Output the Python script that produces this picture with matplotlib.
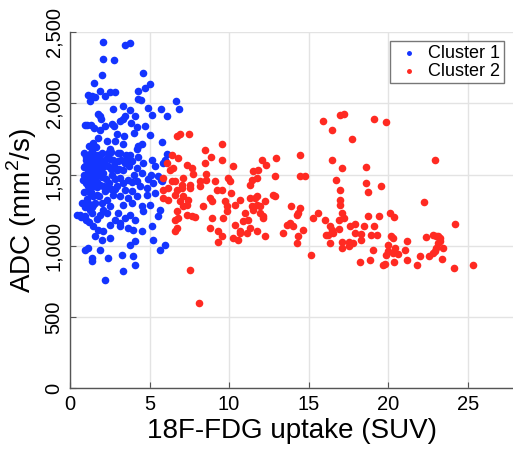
import matplotlib
matplotlib.use('Agg')
import matplotlib.pyplot as plt
from matplotlib.ticker import FuncFormatter
import numpy as np

plt.rcParams['font.family'] = ['Liberation Sans', 'DejaVu Sans']
plt.rcParams['mathtext.fontset'] = 'custom'
plt.rcParams['mathtext.rm'] = 'Liberation Sans'

#----------------------------------------#
#   data: (SUV, ADC)
#----------------------------------------#
cluster1 = [
    (2.09, 2431), (3.45, 2409), (3.8, 2421), (2.09, 2314), (2.78, 2302), (2.0, 2199), (4.6, 2215),
    (5.02, 2138), (4.71, 2110), (1.5, 2142), (1.88, 2086), (2.5, 2079), (2.82, 2079), (4.25, 2086),
    (1.15, 2056), (1.36, 2051), (1.26, 2016), (1.57, 2044), (2.2, 2051), (4.3, 2028), (4.46, 2023),
    (6.69, 2016), (6.84, 1957), (4.92, 1969), (2.72, 1962), (3.35, 1981), (3.77, 1953), (5.13, 1915),
    (5.75, 1962), (6.1, 1908), (1.78, 1922), (1.88, 1910), (1.95, 1892), (1.09, 1845), (1.3, 1845),
    (1.5, 1828), (3.45, 1910), (3.35, 1892), (4.08, 1910), (3.83, 1859), (4.18, 1835), (4.71, 1840),
    (2.78, 1840), (2.2, 1840), (2.93, 1781), (4.0, 1793), (3.39, 1770), (5.02, 1779), (1.88, 1810),
    (1.78, 1758), (0.94, 1845), (3.14, 1875), (2.62, 1852),
    (1.47, 1723), (2.3, 1735), (2.83, 1735), (3.35, 1711), (4.5, 1711), (5.76, 1728), (4.29, 1700),
    (4.19, 1676), (1.36, 1664), (1.99, 1652), (2.51, 1676), (3.14, 1652), (3.77, 1634), (6.07, 1641),
    (1.26, 1605), (1.67, 1610), (1.57, 1570), (1.99, 1594), (2.3, 1617), (2.72, 1605), (3.04, 1594),
    (3.45, 1582), (3.87, 1594), (1.47, 1535), (1.88, 1547), (2.41, 1559), (2.93, 1535), (3.35, 1535),
    (4.19, 1547), (4.5, 1512), (5.13, 1605), (5.34, 1559), (5.86, 1582), (5.97, 1605), (5.55, 1488),
    (1.67, 1488), (2.09, 1512), (2.62, 1500), (3.14, 1477), (3.66, 1465), (4.19, 1453), (1.26, 1453),
    (1.47, 1418), (1.88, 1430), (2.3, 1418), (2.93, 1418), (3.45, 1395), (3.87, 1383), (4.4, 1418),
    (4.82, 1406), (5.23, 1441), (5.76, 1453), (1.26, 1371), (1.67, 1359), (2.2, 1383), (2.72, 1359),
    (3.14, 1348), (3.66, 1336), (4.19, 1348), (4.82, 1359), (5.34, 1371),
    (1.05, 1560), (1.15, 1520), (1.1, 1480), (1.2, 1400), (1.0, 1620), (1.35, 1650), (1.4, 1500),
    (1.55, 1460), (1.3, 1380), (1.75, 1640), (1.6, 1590), (1.8, 1520), (1.45, 1350), (1.7, 1410),
    (1.9, 1610), (2.0, 1480), (2.15, 1560), (2.45, 1440), (2.6, 1660), (0.9, 1500), (0.85, 1380),
    (0.95, 1560), (1.1, 1300), (1.25, 1250), (2.8, 1470), (3.2, 1600), (3.5, 1640), (2.55, 1540),
    (1.65, 1690), (1.2, 1700), (0.9, 1650), (1.0, 1440), (1.05, 1330), (0.85, 1550), (0.98, 1600),
    (1.35, 1560), (1.5, 1610), (1.25, 1530), (1.75, 1580), (2.25, 1470), (1.6, 1520), (1.45, 1440),
    (3.0, 1650), (4.0, 1500), (4.6, 1580), (3.7, 1560), (2.4, 1650), (4.3, 1620), (5.1, 1500),
    (5.7, 1465), (4.9, 1470), (3.3, 1440), (2.6, 1400), (1.85, 1350), (1.55, 1300), (2.05, 1250),
    (0.8, 1460), (0.75, 1300), (0.95, 1270), (1.15, 1420), (1.3, 1480), (1.2, 1610), (1.4, 1580),
    (1.6, 1640), (1.95, 1560), (2.2, 1600), (2.5, 1610), (2.75, 1560), (3.1, 1540), (3.6, 1610),
    (1.7, 1450), (2.1, 1420), (2.8, 1400), (1.4, 1270), (1.0, 1180), (2.35, 1320), (3.9, 1450),
    (1.47, 1289), (1.99, 1301), (2.51, 1277), (3.35, 1289), (3.87, 1301), (4.5, 1277), (5.03, 1289),
    (5.65, 1254), (0.63, 1218), (0.94, 1207), (1.36, 1230), (1.88, 1218), (2.3, 1230), (2.51, 1148),
    (3.14, 1160), (3.45, 1195), (3.77, 1218), (4.08, 1183), (4.61, 1242), (5.55, 1207),
    (1.47, 1137), (1.78, 1113), (2.09, 1101), (1.57, 1066), (1.99, 1043), (2.51, 1055), (3.14, 1137),
    (3.66, 1125), (3.98, 1113), (4.5, 1101), (5.13, 1137), (5.23, 1043),
    (3.77, 1008), (4.08, 1031), (5.65, 972), (5.97, 1008), (0.94, 972), (1.15, 984), (1.88, 972),
    (1.36, 914), (1.36, 890), (2.41, 914), (3.25, 937), (3.98, 925), (4.08, 867), (3.35, 820),
    (2.2, 762), (0.46, 1219), (0.7, 1200), (1.2, 1170), (2.8, 1180), (1.7, 1190), (3.0, 1230),
]

cluster2 = [
    (6.7, 1769), (6.91, 1781), (7.5, 1786),
    (8.48, 1675), (9.53, 1711), (8.86, 1624), (8.48, 1582), (9.53, 1605), (10.22, 1558),
    (6.39, 1640), (6.8, 1617), (7.33, 1570), (7.64, 1547), (6.07, 1582), (6.28, 1535), (6.49, 1546),
    (7.75, 1507), (8.17, 1453), (8.58, 1507), (8.58, 1464), (9.11, 1453), (9.95, 1476), (10.05, 1453),
    (6.39, 1453), (6.6, 1453), (7.12, 1476), (7.01, 1429), (7.54, 1429), (8.17, 1418), (5.86, 1476),
    (6.7, 1394), (7.01, 1406), (5.86, 1394), (6.18, 1406), (7.54, 1406), (9.21, 1394), (9.53, 1394),
    (10.15, 1371), (10.68, 1324), (11.31, 1336),
    (6.6, 1359), (7.12, 1347), (7.43, 1324), (5.86, 1336), (6.18, 1324), (6.91, 1312), (7.12, 1277),
    (6.7, 1242), (7.33, 1289),
    (8.79, 1336), (8.9, 1312), (9.74, 1312), (9.85, 1277), (10.36, 1289), (9.85, 1242), (8.38, 1277),
    (7.33, 1218), (7.64, 1207), (7.85, 1202), (6.6, 1183), (6.8, 1195), (8.9, 1195), (9.63, 1195),
    (10.99, 1230), (11.2, 1183),
    (6.7, 1125), (6.6, 1101), (8.79, 1125), (9.32, 1101), (10.36, 1148), (10.89, 1172), (9.53, 1066),
    (9.32, 1024), (10.26, 1054), (10.57, 1043), (11.1, 1089), (10.68, 1089),
    (7.54, 832), (8.1, 597),
    (11.31, 1429), (11.41, 1464), (11.73, 1476), (11.62, 1336), (11.73, 1347), (11.41, 1282),
    (11.52, 1254), (11.73, 1289), (11.93, 1277), (12.25, 1312), (11.93, 1230), (12.14, 1195),
    (12.14, 1207), (11.73, 1101), (12.25, 1066), (12.04, 1605), (12.35, 1570), (11.83, 1535),
    (11.52, 1523), (12.98, 1617), (12.88, 1488), (12.77, 1359), (12.88, 1347),
    (11.31, 1125), (10.68, 1101),
    (13.4, 1089), (13.61, 1148), (13.82, 1160), (13.92, 1277), (14.03, 1136), (14.24, 1218),
    (14.34, 1230), (14.45, 1265), (14.24, 1019), (14.34, 1071), (14.66, 1113), (14.45, 1640),
    (14.45, 1488), (14.76, 1488), (15.28, 1195), (15.6, 1230), (15.18, 937), (15.91, 1875),
    (16.02, 1183), (16.12, 1078), (16.33, 1136), (16.33, 1019),
    (16.44, 1816), (16.96, 1915), (17.21, 1927), (17.7, 1746), (19.1, 1887), (19.85, 1868),
    (16.44, 1605), (17.07, 1547), (18.6, 1554), (22.93, 1605), (16.75, 1465), (16.96, 1394),
    (18.74, 1376), (18.6, 1441), (19.52, 1418), (16.96, 1324), (17.0, 1289), (17.07, 1230),
    (17.23, 1195), (16.92, 1184), (16.44, 1113), (16.54, 1090), (16.23, 1078), (16.92, 1118),
    (17.59, 1137), (17.9, 1155), (18.47, 1137), (18.74, 1207), (19.1, 1141), (19.43, 1212),
    (20.14, 1230), (20.35, 1200), (17.9, 1090), (18.28, 1085), (18.95, 1078), (19.31, 1078),
    (17.55, 1024), (17.76, 1019), (17.55, 1001), (17.07, 1024), (17.07, 984), (18.32, 1038),
    (19.06, 968), (20.21, 1071), (20.31, 1055), (20.0, 1003), (20.0, 961), (20.42, 984),
    (20.63, 945), (19.89, 937), (20.31, 949), (21.05, 973), (21.21, 1031), (18.25, 888),
    (18.89, 902), (19.68, 867), (19.83, 872), (20.38, 883), (21.19, 902), (21.84, 867),
    (21.99, 926), (22.28, 1305), (22.36, 1059), (22.82, 1078), (23.03, 1071), (23.14, 1066),
    (23.24, 1055), (23.14, 1020), (23.03, 984), (22.93, 961), (22.82, 949), (23.24, 1031),
    (23.45, 984), (23.39, 909), (22.57, 926), (24.19, 1153), (24.14, 844), (25.34, 862),
]

labels = ['Cluster 1', 'Cluster 2']
colors = ['#1434ff', '#ff2a22']
x_ticks = [0, 5, 10, 15, 20, 25]
y_ticks = [0, 500, 1000, 1500, 2000, 2500]

fig = plt.figure(figsize=(5.13, 4.51), dpi=100)
ax = fig.add_axes([0.1365, 0.139, 0.8635, 0.790])

for pts, lab, col in zip([cluster1, cluster2], labels, colors):
    arr = np.array(pts)
    ax.scatter(arr[:, 0], arr[:, 1], s=30, c=col, linewidths=0, label=lab, zorder=3)

ax.set_xlim(0, 27.85)
ax.set_ylim(0, 2500)
ax.set_xticks(x_ticks)
ax.set_yticks(y_ticks)
ax.yaxis.set_major_formatter(FuncFormatter(lambda v, p: '{:,}'.format(int(v))))
ax.grid(True, color='#e3e3e3', linewidth=1.0, zorder=0)
ax.set_axisbelow(True)

for side in ['top', 'right']:
    ax.spines[side].set_visible(False)
for side in ['left', 'bottom']:
    ax.spines[side].set_color('#555555')
    ax.spines[side].set_linewidth(1.0)

ax.tick_params(direction='in', length=4, width=0.8, color='#555555', labelsize=14.5, pad=5)
plt.setp(ax.get_yticklabels(), rotation=90, va='center')

ax.set_xlabel('18F-FDG uptake (SUV)', fontsize=20, labelpad=3)
ax.set_ylabel('ADC (mm$^2$/s)', fontsize=20, labelpad=4)

leg = ax.legend(loc='upper right', fontsize=13, markerscale=0.65, frameon=True, fancybox=False,
                edgecolor='#555555', borderaxespad=0.5, handletextpad=0.3, borderpad=0.2,
                labelspacing=0.05, handlelength=1.6)
leg.get_frame().set_linewidth(1.0)

fig.savefig('out.png', dpi=100)
